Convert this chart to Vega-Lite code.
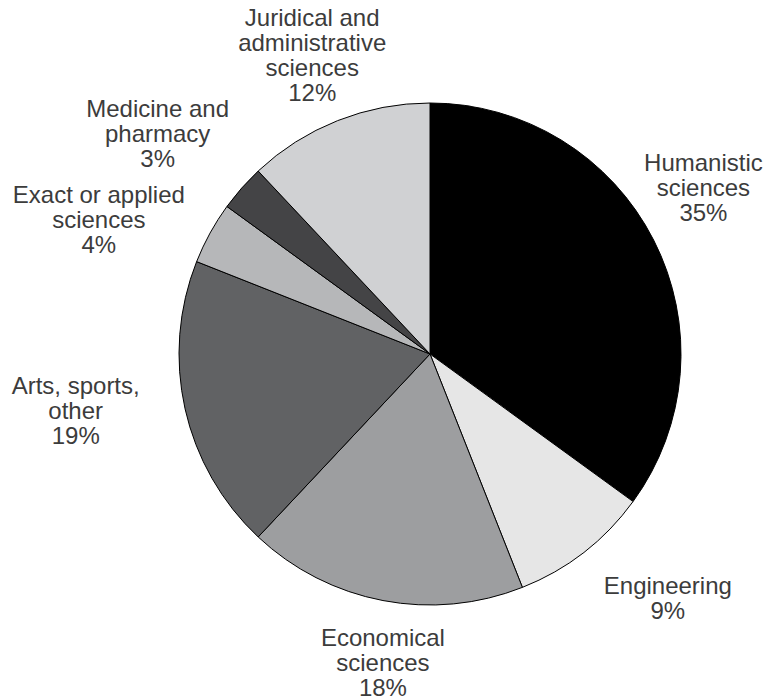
{
  "$schema": "https://vega.github.io/schema/vega-lite/v6.json",
  "width": 676,
  "height": 688,
  "autosize": {"type": "none"},
  "padding": {"left": 92, "top": 10, "right": 0, "bottom": 0},
  "background": "white",
  "view": {"stroke": null},
  "data": {
    "values": [
      {"category": "Humanistic sciences", "label": "Humanistic\nsciences\n35%", "share": 35, "rank": 1},
      {"category": "Engineering", "label": "Engineering\n9%", "share": 9, "rank": 2},
      {"category": "Economical sciences", "label": "Economical\nsciences\n18%", "share": 18, "rank": 3},
      {"category": "Arts, sports, other", "label": "Arts, sports,\nother\n19%", "share": 19, "rank": 4},
      {"category": "Exact or applied sciences", "label": "Exact or applied\nsciences\n4%", "share": 4, "rank": 5},
      {"category": "Medicine and pharmacy", "label": "Medicine and\npharmacy\n3%", "share": 3, "rank": 6},
      {"category": "Juridical and administrative sciences", "label": "Juridical and\nadministrative\nsciences\n12%", "share": 12, "rank": 7}
    ]
  },
  "encoding": {
    "theta": {"field": "share", "type": "quantitative", "stack": true},
    "order": {"field": "rank", "type": "quantitative"}
  },
  "layer": [
    {
      "mark": {"type": "arc", "outerRadius": 251, "stroke": "#000000", "strokeWidth": 1},
      "encoding": {
        "color": {
          "field": "category",
          "type": "nominal",
          "legend": null,
          "scale": {
            "domain": ["Humanistic sciences", "Engineering", "Economical sciences", "Arts, sports, other", "Exact or applied sciences", "Medicine and pharmacy", "Juridical and administrative sciences"],
            "range": ["#000000", "#e6e6e6", "#9d9ea0", "#616264", "#b6b7b9", "#444446", "#d0d1d3"]
          }
        }
      }
    },
    {
      "mark": {"type": "text", "radius": 320, "thetaOffset": -0.075, "dy": -24, "font": "Liberation Sans", "fontSize": 24, "lineHeight": 25, "fill": "#3c3c3c", "align": "center", "baseline": "middle", "lineBreak": "\n"},
      "encoding": {"text": {"condition": {"test": "datum.category === 'Humanistic sciences'", "field": "label"}, "value": ""}}
    },
    {
      "mark": {"type": "text", "radius": 340, "thetaOffset": -0.115, "dy": -10, "font": "Liberation Sans", "fontSize": 24, "lineHeight": 25, "fill": "#3c3c3c", "align": "center", "baseline": "middle", "lineBreak": "\n"},
      "encoding": {"text": {"condition": {"test": "datum.category === 'Engineering'", "field": "label"}, "value": ""}}
    },
    {
      "mark": {"type": "text", "radius": 312, "thetaOffset": -0.037, "dy": -23, "font": "Liberation Sans", "fontSize": 24, "lineHeight": 25, "fill": "#3c3c3c", "align": "center", "baseline": "middle", "lineBreak": "\n"},
      "encoding": {"text": {"condition": {"test": "datum.category === 'Economical sciences'", "field": "label"}, "value": ""}}
    },
    {
      "mark": {"type": "text", "radius": 359, "thetaOffset": 0.058, "dy": -25, "font": "Liberation Sans", "fontSize": 24, "lineHeight": 25, "fill": "#3c3c3c", "align": "center", "baseline": "middle", "lineBreak": "\n"},
      "encoding": {"text": {"condition": {"test": "datum.category === 'Arts, sports, other'", "field": "label"}, "value": ""}}
    },
    {
      "mark": {"type": "text", "radius": 357, "thetaOffset": -0.12, "dy": -25, "font": "Liberation Sans", "fontSize": 24, "lineHeight": 25, "fill": "#3c3c3c", "align": "center", "baseline": "middle", "lineBreak": "\n"},
      "encoding": {"text": {"condition": {"test": "datum.category === 'Exact or applied sciences'", "field": "label"}, "value": ""}}
    },
    {
      "mark": {"type": "text", "radius": 351, "thetaOffset": -0.04, "dy": -23, "font": "Liberation Sans", "fontSize": 24, "lineHeight": 25, "fill": "#3c3c3c", "align": "center", "baseline": "middle", "lineBreak": "\n"},
      "encoding": {"text": {"condition": {"test": "datum.category === 'Medicine and pharmacy'", "field": "label"}, "value": ""}}
    },
    {
      "mark": {"type": "text", "radius": 320, "thetaOffset": 0.0, "dy": -37.5, "font": "Liberation Sans", "fontSize": 24, "lineHeight": 25, "fill": "#3c3c3c", "align": "center", "baseline": "middle", "lineBreak": "\n"},
      "encoding": {"text": {"condition": {"test": "datum.category === 'Juridical and administrative sciences'", "field": "label"}, "value": ""}}
    }
  ]
}
